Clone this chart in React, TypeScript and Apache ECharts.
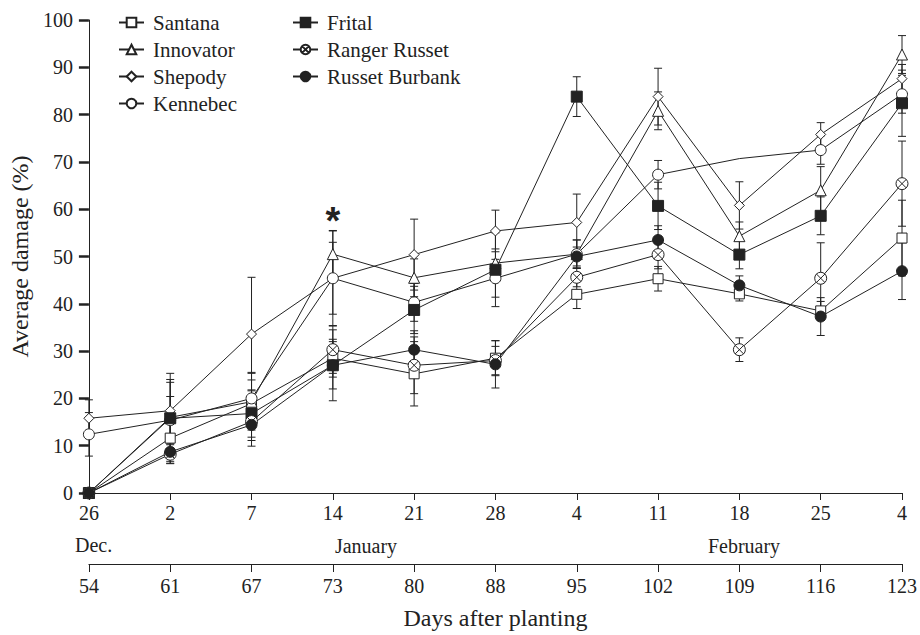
import React, { useEffect, useRef } from "react";
import * as echarts from "echarts";

const dateLabels = ["26", "2", "7", "14", "21", "28", "4", "11", "18", "25", "4"];
const dayLabels = ["54", "61", "67", "73", "80", "88", "95", "102", "109", "116", "123"];
const yTicks = [0, 100, 10];

const seriesNames = ["Santana", "Innovator", "Shepody", "Kennebec", "Frital", "Ranger Russet", "Russet Burbank"];

const santana = [0, 11.6, 18.9, 28.5, 25.2, 28.5, 42.0, 45.3, 42.1, 38.5, 53.9];
const innovator = [0, 16.0, 19.3, 50.5, 45.5, 48.6, 50.5, 80.8, 54.3, 64.0, 92.7];
const shepody = [15.8, 17.4, 33.6, 45.4, 50.4, 55.4, 57.2, 83.8, 60.8, 75.8, 87.6];
const kennebec = [12.4, 15.4, 20.0, 45.4, 40.3, 45.4, 50.5, 67.3, 70.7, 72.5, 84.3];
const frital = [0, 15.8, 16.8, 27.0, 38.7, 47.2, 83.8, 60.7, 50.4, 58.6, 82.4];
const rangerRusset = [0, 8.2, 15.1, 30.3, 27.0, 28.0, 45.6, 50.4, 30.3, 45.4, 65.4];
const russetBurbank = [0, 8.7, 14.4, 27.0, 30.3, 27.2, 50.0, 53.5, 43.9, 37.3, 46.9];

const santanaErr = [0, 4, 5, 4, 6.8, 3.7, 3, 2.6, 1.5, 2, 8];
const innovatorErr = [0, 8, 6, 5, 4, 3, 3, 4, 3, 5, 4];
const shepodyErr = [3.9, 6, 12, 10, 7.5, 4.4, 6, 6, 5, 2.5, 3];
const kennebecErr = [4.6, 5, 5.5, 7.6, 4, 4, 3, 3, 0, 3, 4];
const fritalErr = [0, 9.5, 5, 7.5, 5, 7.8, 4.2, 5, 3, 4, 7];
const rangerErr = [0, 2, 4, 5, 6, 3, 2, 3, 2.5, 7.5, 9];
const burbankErr = [0, 2, 4.5, 5, 4, 5, 2, 3, 2, 4, 6];

// index of the Kennebec point drawn without a marker (18 Feb)
const kennebecNoMarker = 8;
// significance mark: category index and value
const starIndex = 3;
const starValue = 57.5;

const FONT = "Liberation Serif";
const INK = "#222";

const xCircle =
  "path://M10,0A10,10,0,1,1,-10,0A10,10,0,1,1,10,0ZM-7.07,-7.07L7.07,7.07M7.07,-7.07L-7.07,7.07";

export default function App() {
  const ref = useRef<HTMLDivElement>(null);

  useEffect(() => {
    if (!ref.current) return;
    const chart = echarts.init(ref.current, null, { renderer: "svg" });

    const values = [santana, innovator, shepody, kennebec, frital, rangerRusset, russetBurbank];
    const errs = [santanaErr, innovatorErr, shepodyErr, kennebecErr, fritalErr, rangerErr, burbankErr];
    const symbols = ["rect", "triangle", "diamond", "circle", "rect", xCircle, "circle"];
    const fills = ["#fff", "#fff", "#fff", "#fff", INK, "#fff", INK];
    const sizes = [10, 11, 10, 11, 11, 12, 11];

    const lineSeries = seriesNames.map((name, i) => {
      const data = values[i].map((v, k) =>
        i === 3 && k === kennebecNoMarker ? { value: v, symbol: "none" } : v
      );
      const s: any = {
        type: "line",
        name,
        data,
        symbol: symbols[i],
        symbolSize: sizes[i],
        showAllSymbol: true,
        z: 3,
        lineStyle: { color: INK, width: 1 },
        itemStyle: { color: fills[i], borderColor: INK, borderWidth: 1 },
        emphasis: { disabled: true },
      };
      if (i === 1) {
        s.markPoint = {
          symbol: "circle",
          symbolSize: 0,
          data: [{ coord: [starIndex, starValue], value: 0 }],
          label: {
            show: true,
            formatter: "*",
            position: "inside",
            color: INK,
            fontFamily: "Liberation Sans",
            fontWeight: "bold",
            fontSize: 38,
          },
        };
      }
      return s;
    });

    const errSeries = seriesNames.map((name, i) => ({
      type: "custom",
      name: name + " error",
      z: 1,
      data: values[i].map((v, k) => [k, v, errs[i][k]]),
      renderItem: (params: any, api: any) => {
        const x = api.value(0);
        const v = api.value(1);
        const e = api.value(2);
        if (!e) return null;
        const top = api.coord([x, v + e]);
        const bot = api.coord([x, v - e]);
        const hw = 4;
        const st = { stroke: INK, lineWidth: 1 };
        return {
          type: "group",
          children: [
            { type: "line", shape: { x1: top[0], y1: top[1], x2: bot[0], y2: bot[1] }, style: st },
            { type: "line", shape: { x1: top[0] - hw, y1: top[1], x2: top[0] + hw, y2: top[1] }, style: st },
            { type: "line", shape: { x1: bot[0] - hw, y1: bot[1], x2: bot[0] + hw, y2: bot[1] }, style: st },
          ],
        };
      },
      silent: true,
    }));

    const legendCommon = {
      orient: "vertical",
      padding: 0,
      itemWidth: 25,
      itemHeight: 12,
      itemGap: 6,
      textStyle: { fontFamily: FONT, fontSize: 21, color: INK, lineHeight: 21, padding: [0, 0, 0, 4] },
      inactiveColor: INK,
      selectedMode: false,
    };

    chart.setOption({
      animation: false,
      backgroundColor: "#fff",
      textStyle: { fontFamily: FONT },
      grid: { left: 83, right: 16, top: 20, bottom: 138, containLabel: false },
      legend: [
        { ...legendCommon, left: 118, top: 12, data: seriesNames.slice(0, 4) },
        { ...legendCommon, left: 292, top: 12, data: seriesNames.slice(4) },
      ],
      xAxis: [
        {
          type: "category",
          data: dateLabels,
          boundaryGap: false,
          position: "bottom",
          axisLine: { show: true, lineStyle: { color: INK, width: 1 } },
          axisTick: { show: true, alignWithLabel: true, length: 7, lineStyle: { color: INK } },
          axisLabel: { color: INK, fontFamily: FONT, fontSize: 20, margin: 10 },
          splitLine: { show: false },
        },
        {
          type: "category",
          data: dayLabels,
          boundaryGap: false,
          position: "bottom",
          offset: 71,
          axisLine: { show: true, onZero: false, lineStyle: { color: INK, width: 1 } },
          axisTick: { show: true, length: 8, lineStyle: { color: INK } },
          axisLabel: { color: INK, fontFamily: FONT, fontSize: 20, margin: 12 },
          splitLine: { show: false },
          name: "Days after planting",
          nameLocation: "middle",
          nameGap: 42,
          nameTextStyle: { color: INK, fontFamily: FONT, fontSize: 24 },
        },
      ],
      yAxis: {
        type: "value",
        min: yTicks[0],
        max: yTicks[1],
        interval: yTicks[2],
        axisLine: { show: true, lineStyle: { color: INK, width: 1 } },
        axisTick: { show: true, length: 10, lineStyle: { color: INK, width: 2.5 } },
        axisLabel: { color: INK, fontFamily: FONT, fontSize: 20, margin: 16 },
        splitLine: { show: false },
        name: "Average damage (%)",
        nameLocation: "middle",
        nameGap: 52,
        nameTextStyle: { color: INK, fontFamily: FONT, fontSize: 24 },
      },
      graphic: [
        { type: "text", left: 75, top: 535, style: { text: "Dec.", font: `20px "${FONT}"`, fill: INK } },
        { type: "text", x: 366, y: 546, style: { text: "January", font: `20px "${FONT}"`, fill: INK, align: "center", verticalAlign: "middle" } },
        { type: "text", x: 744, y: 546, style: { text: "February", font: `20px "${FONT}"`, fill: INK, align: "center", verticalAlign: "middle" } },
      ],
      series: [...errSeries, ...lineSeries],
    });

    return () => chart.dispose();
  }, []);

  return <div ref={ref} style={{ position: "absolute", left: 0, top: 0, width: 920, height: 635 }} />;
}
